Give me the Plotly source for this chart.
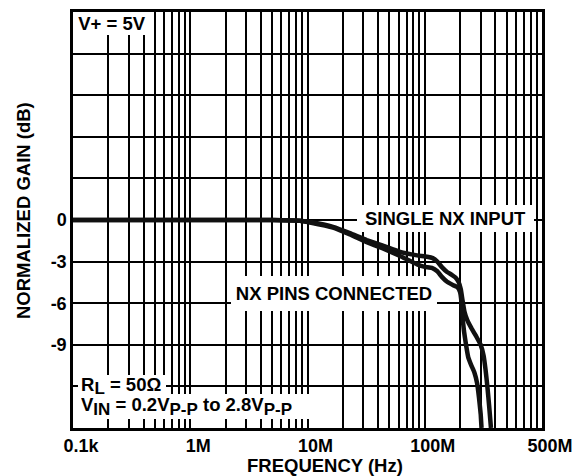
import plotly.graph_objects as go

# ---- data ----
freq_single_mhz = [0.1, 1, 5, 8.6, 10.5, 16.5, 23, 32, 44, 61.5, 86, 105, 117, 128, 140, 155,
                   170, 183, 195, 203, 210, 218, 230, 250, 275, 300, 318, 330, 342, 355, 367]
gain_single_db = [0, 0, 0, -0.05, -0.15, -0.5, -0.95, -1.45, -1.85, -2.3, -2.55, -2.65, -2.75,
                  -3.0, -3.4, -3.75, -3.95, -4.15, -4.5, -5.0, -5.8, -6.6, -7.2, -7.8, -8.4,
                  -9.0, -9.8, -10.8, -12.0, -13.5, -15.0]

freq_conn_mhz = [0.1, 1, 5, 8.6, 10.5, 16.5, 23, 32, 44, 61.5, 86, 100, 115, 128, 140, 155,
                 175, 190, 200, 205, 210, 216, 225, 235, 250, 265, 280, 290, 300, 305]
gain_conn_db = [0, 0, 0, -0.05, -0.18, -0.55, -1.05, -1.6, -2.05, -2.6, -3.2, -3.38, -3.45,
                -3.7, -4.1, -4.45, -4.7, -4.85, -5.2, -5.8, -7.0, -8.0, -9.0, -9.9, -10.5,
                -11.0, -11.8, -12.8, -14.0, -15.0]

x_label_vals = [1e5, 1e6, 1e7, 1e8, 1e9]
x_label_text = ["0.1k", "1M", "10M", "100M", "500M"]
y_label_vals = [0, -3, -6, -9]
y_label_text = ["0", "-3", "-6", "-9"]
y_range = [-15, 15]
y_grid_step = 3

FONT = "Liberation Sans, Arial, sans-serif"

# grid positions: every digit in each decade
x_grid = []
for d in range(5, 9):
    for k in range(1, 10):
        x_grid.append(k * 10 ** d)
x_grid.append(1e9)
x_text = [x_label_text[x_label_vals.index(v)] if v in x_label_vals else "" for v in x_grid]

y_grid = list(range(y_range[0], y_range[1] + 1, y_grid_step))
y_text = [y_label_text[y_label_vals.index(v)] if v in y_label_vals else "" for v in y_grid]

fig = go.Figure()
fig.add_trace(go.Scatter(x=[f * 1e6 for f in freq_single_mhz], y=gain_single_db, mode="lines",
                         line=dict(color="#111111", width=4.5, shape="spline", smoothing=0.3),
                         name="SINGLE NX INPUT", showlegend=False))
fig.add_trace(go.Scatter(x=[f * 1e6 for f in freq_conn_mhz], y=gain_conn_db, mode="lines",
                         line=dict(color="#111111", width=4.5, shape="spline", smoothing=0.3),
                         name="NX PINS CONNECTED", showlegend=False))

axis_common = dict(showgrid=True, gridcolor="black", gridwidth=1.5, zeroline=False,
                   showline=True, linecolor="black", linewidth=2.5, mirror=True, ticks="",
                   tickfont=dict(family=FONT, size=18, color="black", weight="bold"))

fig.update_xaxes(type="log", range=[5, 9], tickmode="array", tickvals=x_grid, ticktext=x_text,
                 ticklabelshift=8, **axis_common)
fig.update_yaxes(range=y_range, tickmode="array", tickvals=y_grid, ticktext=y_text, **axis_common)

L, R, T, B = 73, 45, 9, 48
W, H = 587, 476
pw, ph = W - L - R, H - T - B


def px(xp):
    return (xp - L) / pw


def py(yp):
    return (T + ph - yp) / ph


tf = dict(family=FONT, size=18.5, color="black", weight="bold")
ann = [
    dict(text="V+ = 5V", x=px(112), y=py(20.5), width=68, height=17),
    dict(text="SINGLE NX INPUT", x=px(445), y=py(216.5), width=171, height=21),
    dict(text="NX PINS CONNECTED", x=px(334), y=py(292.5), width=200, height=29),
]
for a in ann:
    fig.add_annotation(xref="paper", yref="paper", showarrow=False, bgcolor="white",
                       borderpad=3, borderwidth=0, font=tf, xanchor="center", yanchor="middle", **a)

sub = "<sub><span style='font-size:17px'>{}</span></sub>"
fig.add_annotation(xref="paper", yref="paper", showarrow=False, bgcolor="white", borderpad=3,
                   borderwidth=0, font=tf, xanchor="left", yanchor="middle", align="left",
                   x=px(78), y=py(406), width=228, height=19,
                   text="V" + sub.format("IN") + " = 0.2V" + sub.format("P-P") + " to 2.8V" + sub.format("P-P"))
fig.add_annotation(xref="paper", yref="paper", showarrow=False, bgcolor="white", borderpad=3,
                   borderwidth=0, font=tf, xanchor="left", yanchor="middle", align="left",
                   x=px(78), y=py(385.5), width=82, height=16,
                   text="R" + sub.format("L") + " = 50Ω")

# axis titles
fig.add_annotation(xref="paper", yref="paper", showarrow=False, text="FREQUENCY (Hz)",
                   font=tf, x=px(325), y=py(466), xanchor="center", yanchor="middle")
fig.add_annotation(xref="paper", yref="paper", showarrow=False, text="NORMALIZED GAIN (dB)",
                   font=tf, x=px(23), y=py(209.5), xanchor="center", yanchor="middle", textangle=-90)

fig.update_layout(width=W, height=H, margin=dict(l=L, r=R, t=T, b=B),
                  plot_bgcolor="white", paper_bgcolor="white", showlegend=False)

fig.write_html("out.html", config={"displayModeBar": False},
               post_script="document.body.style.margin='0';")
